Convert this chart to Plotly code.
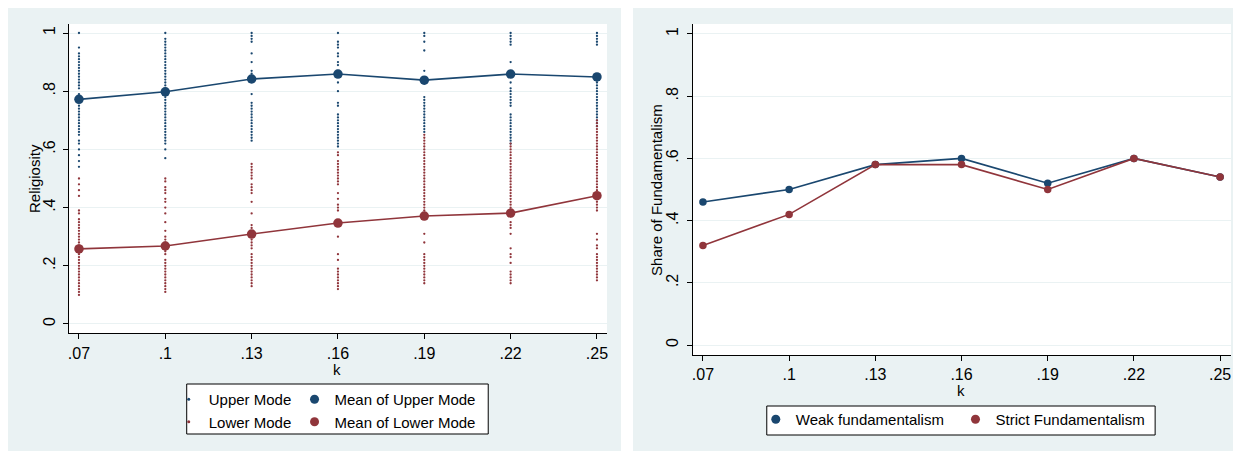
import plotly.graph_objects as go

# The page body adds an 8px margin; the figure fills the rest of the 1241x451 window.
OFF = 8
W, H = 1241 - OFF, 451 - OFF
NAVY = "#1A476F"
MAROON = "#90353B"
BG = "#EAF2F3"
FONT = "Liberation Sans, Arial, sans-serif"

k_values = [0.07, 0.10, 0.13, 0.16, 0.19, 0.22, 0.25]
k_labels = [".07", ".1", ".13", ".16", ".19", ".22", ".25"]
y_ticks = [0, 0.2, 0.4, 0.6, 0.8, 1.0]
y_labels = ["0", ".2", ".4", ".6", ".8", "1"]

# Individual agents' religiosity, upper mode, per k
upper_k07 = [1.0, 0.95, 0.93, 0.92, 0.91, 0.90, 0.89, 0.88, 0.87, 0.86, 0.85, 0.84, 0.83,
             0.82, 0.81, 0.79, 0.77, 0.75, 0.74, 0.73, 0.72, 0.71, 0.70, 0.69, 0.68, 0.67,
             0.66, 0.65, 0.63, 0.62, 0.60, 0.58, 0.56, 0.54]
upper_k10 = [1.0, 0.98, 0.97, 0.96, 0.95, 0.94, 0.93, 0.92, 0.91, 0.90, 0.89, 0.88, 0.87,
             0.86, 0.85, 0.84, 0.83, 0.82, 0.81, 0.79, 0.78, 0.77, 0.76, 0.75, 0.74, 0.73,
             0.72, 0.71, 0.70, 0.69, 0.68, 0.67, 0.66, 0.65, 0.64, 0.63, 0.62, 0.60, 0.57]
upper_k13 = [1.0, 0.99, 0.98, 0.97, 0.93, 0.90, 0.87, 0.86, 0.79, 0.76, 0.75, 0.74, 0.73,
             0.72, 0.71, 0.70, 0.69, 0.68, 0.67, 0.66, 0.65, 0.64, 0.63]
upper_k16 = [1.0, 0.97, 0.96, 0.95, 0.93, 0.92, 0.90, 0.89, 0.87, 0.83, 0.80, 0.76, 0.75,
             0.72, 0.71, 0.70, 0.69, 0.68, 0.67, 0.66, 0.65, 0.64, 0.63, 0.62, 0.61]
upper_k19 = [1.0, 0.99, 0.97, 0.94, 0.87, 0.78, 0.77, 0.76, 0.75, 0.74, 0.73, 0.72, 0.71,
             0.70, 0.69, 0.68, 0.67, 0.66]
upper_k22 = [1.0, 0.99, 0.98, 0.97, 0.96, 0.90, 0.83, 0.81, 0.80, 0.79, 0.78, 0.77, 0.76,
             0.75, 0.72, 0.71, 0.70, 0.69, 0.68, 0.67, 0.66, 0.65, 0.64, 0.63, 0.62]
upper_k25 = [1.0, 0.99, 0.98, 0.97, 0.96, 0.83, 0.82, 0.81, 0.80, 0.79, 0.78, 0.77, 0.76,
             0.75, 0.74, 0.73, 0.72, 0.71, 0.70, 0.69, 0.68]

# Individual agents' religiosity, lower mode, per k
lower_k07 = [0.50, 0.48, 0.46, 0.44, 0.39, 0.38, 0.36, 0.35, 0.34, 0.33, 0.32, 0.31, 0.30,
             0.29, 0.28, 0.27, 0.26, 0.25, 0.24, 0.23, 0.22, 0.21, 0.20, 0.19, 0.18, 0.17,
             0.16, 0.15, 0.14, 0.13, 0.12, 0.11, 0.10]
lower_k10 = [0.50, 0.49, 0.47, 0.46, 0.45, 0.43, 0.42, 0.40, 0.38, 0.35, 0.32, 0.30, 0.29,
             0.28, 0.26, 0.25, 0.24, 0.22, 0.21, 0.20, 0.19, 0.18, 0.17, 0.16, 0.15, 0.14,
             0.13, 0.12, 0.11]
lower_k13 = [0.55, 0.54, 0.53, 0.52, 0.51, 0.50, 0.48, 0.47, 0.46, 0.45, 0.42, 0.38, 0.34,
             0.33, 0.31, 0.29, 0.28, 0.27, 0.26, 0.24, 0.23, 0.22, 0.21, 0.20, 0.19, 0.18,
             0.17, 0.16, 0.15, 0.14, 0.13]
lower_k16 = [0.59, 0.58, 0.56, 0.55, 0.54, 0.53, 0.52, 0.51, 0.50, 0.49, 0.48, 0.45, 0.43,
             0.41, 0.40, 0.39, 0.30, 0.24, 0.22, 0.19, 0.18, 0.17, 0.16, 0.15, 0.14, 0.13,
             0.12]
lower_k19 = [0.65, 0.64, 0.63, 0.62, 0.61, 0.60, 0.59, 0.58, 0.57, 0.56, 0.55, 0.54, 0.53,
             0.52, 0.51, 0.50, 0.49, 0.48, 0.47, 0.46, 0.45, 0.44, 0.43, 0.42, 0.41, 0.40,
             0.39, 0.37, 0.31, 0.28, 0.24, 0.23, 0.22, 0.21, 0.20, 0.19, 0.18, 0.17, 0.16,
             0.15, 0.14]
lower_k22 = [0.62, 0.61, 0.60, 0.59, 0.58, 0.57, 0.56, 0.55, 0.54, 0.53, 0.52, 0.51, 0.50,
             0.49, 0.48, 0.47, 0.46, 0.45, 0.44, 0.43, 0.42, 0.41, 0.40, 0.39, 0.37, 0.35,
             0.34, 0.33, 0.31, 0.26, 0.24, 0.23, 0.21, 0.18, 0.17, 0.16, 0.15, 0.14]
lower_k25 = [0.70, 0.69, 0.68, 0.67, 0.66, 0.65, 0.64, 0.63, 0.62, 0.61, 0.60, 0.59, 0.58,
             0.57, 0.56, 0.55, 0.54, 0.53, 0.52, 0.51, 0.50, 0.49, 0.48, 0.47, 0.46, 0.45,
             0.44, 0.43, 0.42, 0.41, 0.40, 0.39, 0.31, 0.29, 0.27, 0.26, 0.24, 0.23, 0.22,
             0.21, 0.20, 0.19, 0.18, 0.17, 0.16, 0.15]

mean_upper = [0.772, 0.798, 0.842, 0.859, 0.838, 0.859, 0.849]
mean_lower = [0.258, 0.268, 0.309, 0.347, 0.371, 0.381, 0.441]

weak_fund = [0.46, 0.50, 0.58, 0.60, 0.52, 0.60, 0.54]
strict_fund = [0.32, 0.42, 0.58, 0.58, 0.50, 0.60, 0.54]

upper_groups = [upper_k07, upper_k10, upper_k13, upper_k16, upper_k19, upper_k22, upper_k25]
lower_groups = [lower_k07, lower_k10, lower_k13, lower_k16, lower_k19, lower_k22, lower_k25]


def expand(groups):
    xs, ys = [], []
    for k, vals in zip(k_values, groups):
        xs += [k] * len(vals)
        ys += vals
    return xs, ys


def fx(px):
    # page pixel -> paper fraction
    return (px - OFF) / W


def fy(py):
    return 1 - (py - OFF) / H


ux, uy = expand(upper_groups)
lx, ly = expand(lower_groups)

fig = go.Figure()

# Left panel
fig.add_trace(go.Scatter(x=ux, y=uy, mode="markers", xaxis="x", yaxis="y",
                         marker=dict(color=NAVY, size=2.3), showlegend=False))
fig.add_trace(go.Scatter(x=lx, y=ly, mode="markers", xaxis="x", yaxis="y",
                         marker=dict(color=MAROON, size=2.3), showlegend=False))
fig.add_trace(go.Scatter(x=k_values, y=mean_upper, mode="lines+markers", xaxis="x", yaxis="y",
                         line=dict(color=NAVY, width=1.6), marker=dict(color=NAVY, size=9.5),
                         showlegend=False))
fig.add_trace(go.Scatter(x=k_values, y=mean_lower, mode="lines+markers", xaxis="x", yaxis="y",
                         line=dict(color=MAROON, width=1.6), marker=dict(color=MAROON, size=9.5),
                         showlegend=False))

# Right panel
fig.add_trace(go.Scatter(x=k_values, y=weak_fund, mode="lines+markers", xaxis="x2", yaxis="y2",
                         line=dict(color=NAVY, width=1.6), marker=dict(color=NAVY, size=7.5),
                         showlegend=False))
fig.add_trace(go.Scatter(x=k_values, y=strict_fund, mode="lines+markers", xaxis="x2", yaxis="y2",
                         line=dict(color=MAROON, width=1.6), marker=dict(color=MAROON, size=7.5),
                         showlegend=False))


# Legend-only entries
def legend_entry(name, color, size, legend):
    fig.add_trace(go.Scatter(x=[None], y=[None], mode="markers", name=name, xaxis="x", yaxis="y",
                             marker=dict(color=color, size=size), legend=legend, showlegend=True))


legend_entry("Upper Mode", NAVY, 3, "legend")
legend_entry("Lower Mode", MAROON, 3, "legend")
legend_entry("Mean of Upper Mode", NAVY, 9, "legend2")
legend_entry("Mean of Lower Mode", MAROON, 9, "legend2")
legend_entry("Weak fundamentalism", NAVY, 9, "legend3")
legend_entry("Strict Fundamentalism", MAROON, 9, "legend4")

axis_common = dict(
    showline=True, linecolor="black", linewidth=1, ticks="outside", ticklen=5,
    tickcolor="black", tickfont=dict(family=FONT, size=16, color="black"), zeroline=False,
)

leg_common = dict(xanchor="left", yanchor="top", bgcolor="rgba(0,0,0,0)", borderwidth=0,
                  font=dict(family=FONT, size=15, color="black"), tracegroupgap=0)

fig.update_layout(
    width=W, height=H,
    margin=dict(l=0, r=0, t=0, b=0),
    paper_bgcolor=BG, plot_bgcolor="white",
    font=dict(family=FONT, size=15, color="black"),
    xaxis=dict(domain=[fx(68), fx(607)], range=[0.0665, 0.2535], tickvals=k_values,
               ticktext=k_labels, showgrid=False, anchor="y", ticklabelstandoff=1, **axis_common),
    yaxis=dict(domain=[fy(333), fy(24)], range=[-0.031, 1.031], tickvals=y_ticks,
               ticktext=y_labels, tickangle=-90, showgrid=True, gridcolor=BG, gridwidth=1,
               anchor="x", ticklabelstandoff=2, **axis_common),
    xaxis2=dict(domain=[fx(693), fx(1232)], range=[0.0665, 0.2538], tickvals=k_values,
                ticktext=k_labels, showgrid=False, anchor="y2", ticklabelstandoff=0, **axis_common),
    yaxis2=dict(domain=[fy(355), fy(24)], range=[-0.032, 1.032], tickvals=y_ticks,
                ticktext=y_labels, tickangle=-90, showgrid=True, gridcolor=BG, gridwidth=1,
                anchor="x2", ticklabelstandoff=2, **axis_common),
    legend=dict(x=fx(168), y=fy(383), **leg_common),
    legend2=dict(x=fx(294), y=fy(383), **leg_common),
    legend3=dict(x=fx(756), y=fy(403), **leg_common),
    legend4=dict(x=fx(956), y=fy(403), **leg_common),
    showlegend=True,
)

# White gap between the two panels, and legend boxes
shapes = [
    dict(type="rect", xref="paper", yref="paper", x0=fx(621), x1=fx(633), y0=0, y1=1,
         fillcolor="white", line=dict(width=0), layer="below"),
    dict(type="rect", xref="paper", yref="paper", x0=fx(186), x1=fx(488), y0=fy(434), y1=fy(384),
         fillcolor="white", line=dict(color="black", width=1), layer="below"),
    dict(type="rect", xref="paper", yref="paper", x0=fx(767), x1=fx(1156), y0=fy(435), y1=fy(406),
         fillcolor="white", line=dict(color="black", width=1), layer="below"),
]
fig.update_layout(shapes=shapes)

# Axis titles
ann = dict(xref="paper", yref="paper", showarrow=False, xanchor="center", yanchor="middle",
           font=dict(family=FONT, size=15, color="black"))
fig.add_annotation(text="Religiosity", x=fx(33), y=fy(178), textangle=-90, **ann)
fig.add_annotation(text="k", x=fx(337), y=fy(369), **ann)
fig.add_annotation(text="Share of Fundamentalism", x=fx(656), y=fy(190), textangle=-90, **ann)
fig.add_annotation(text="k", x=fx(962), y=fy(390), **ann)

fig.write_html("out.html")
